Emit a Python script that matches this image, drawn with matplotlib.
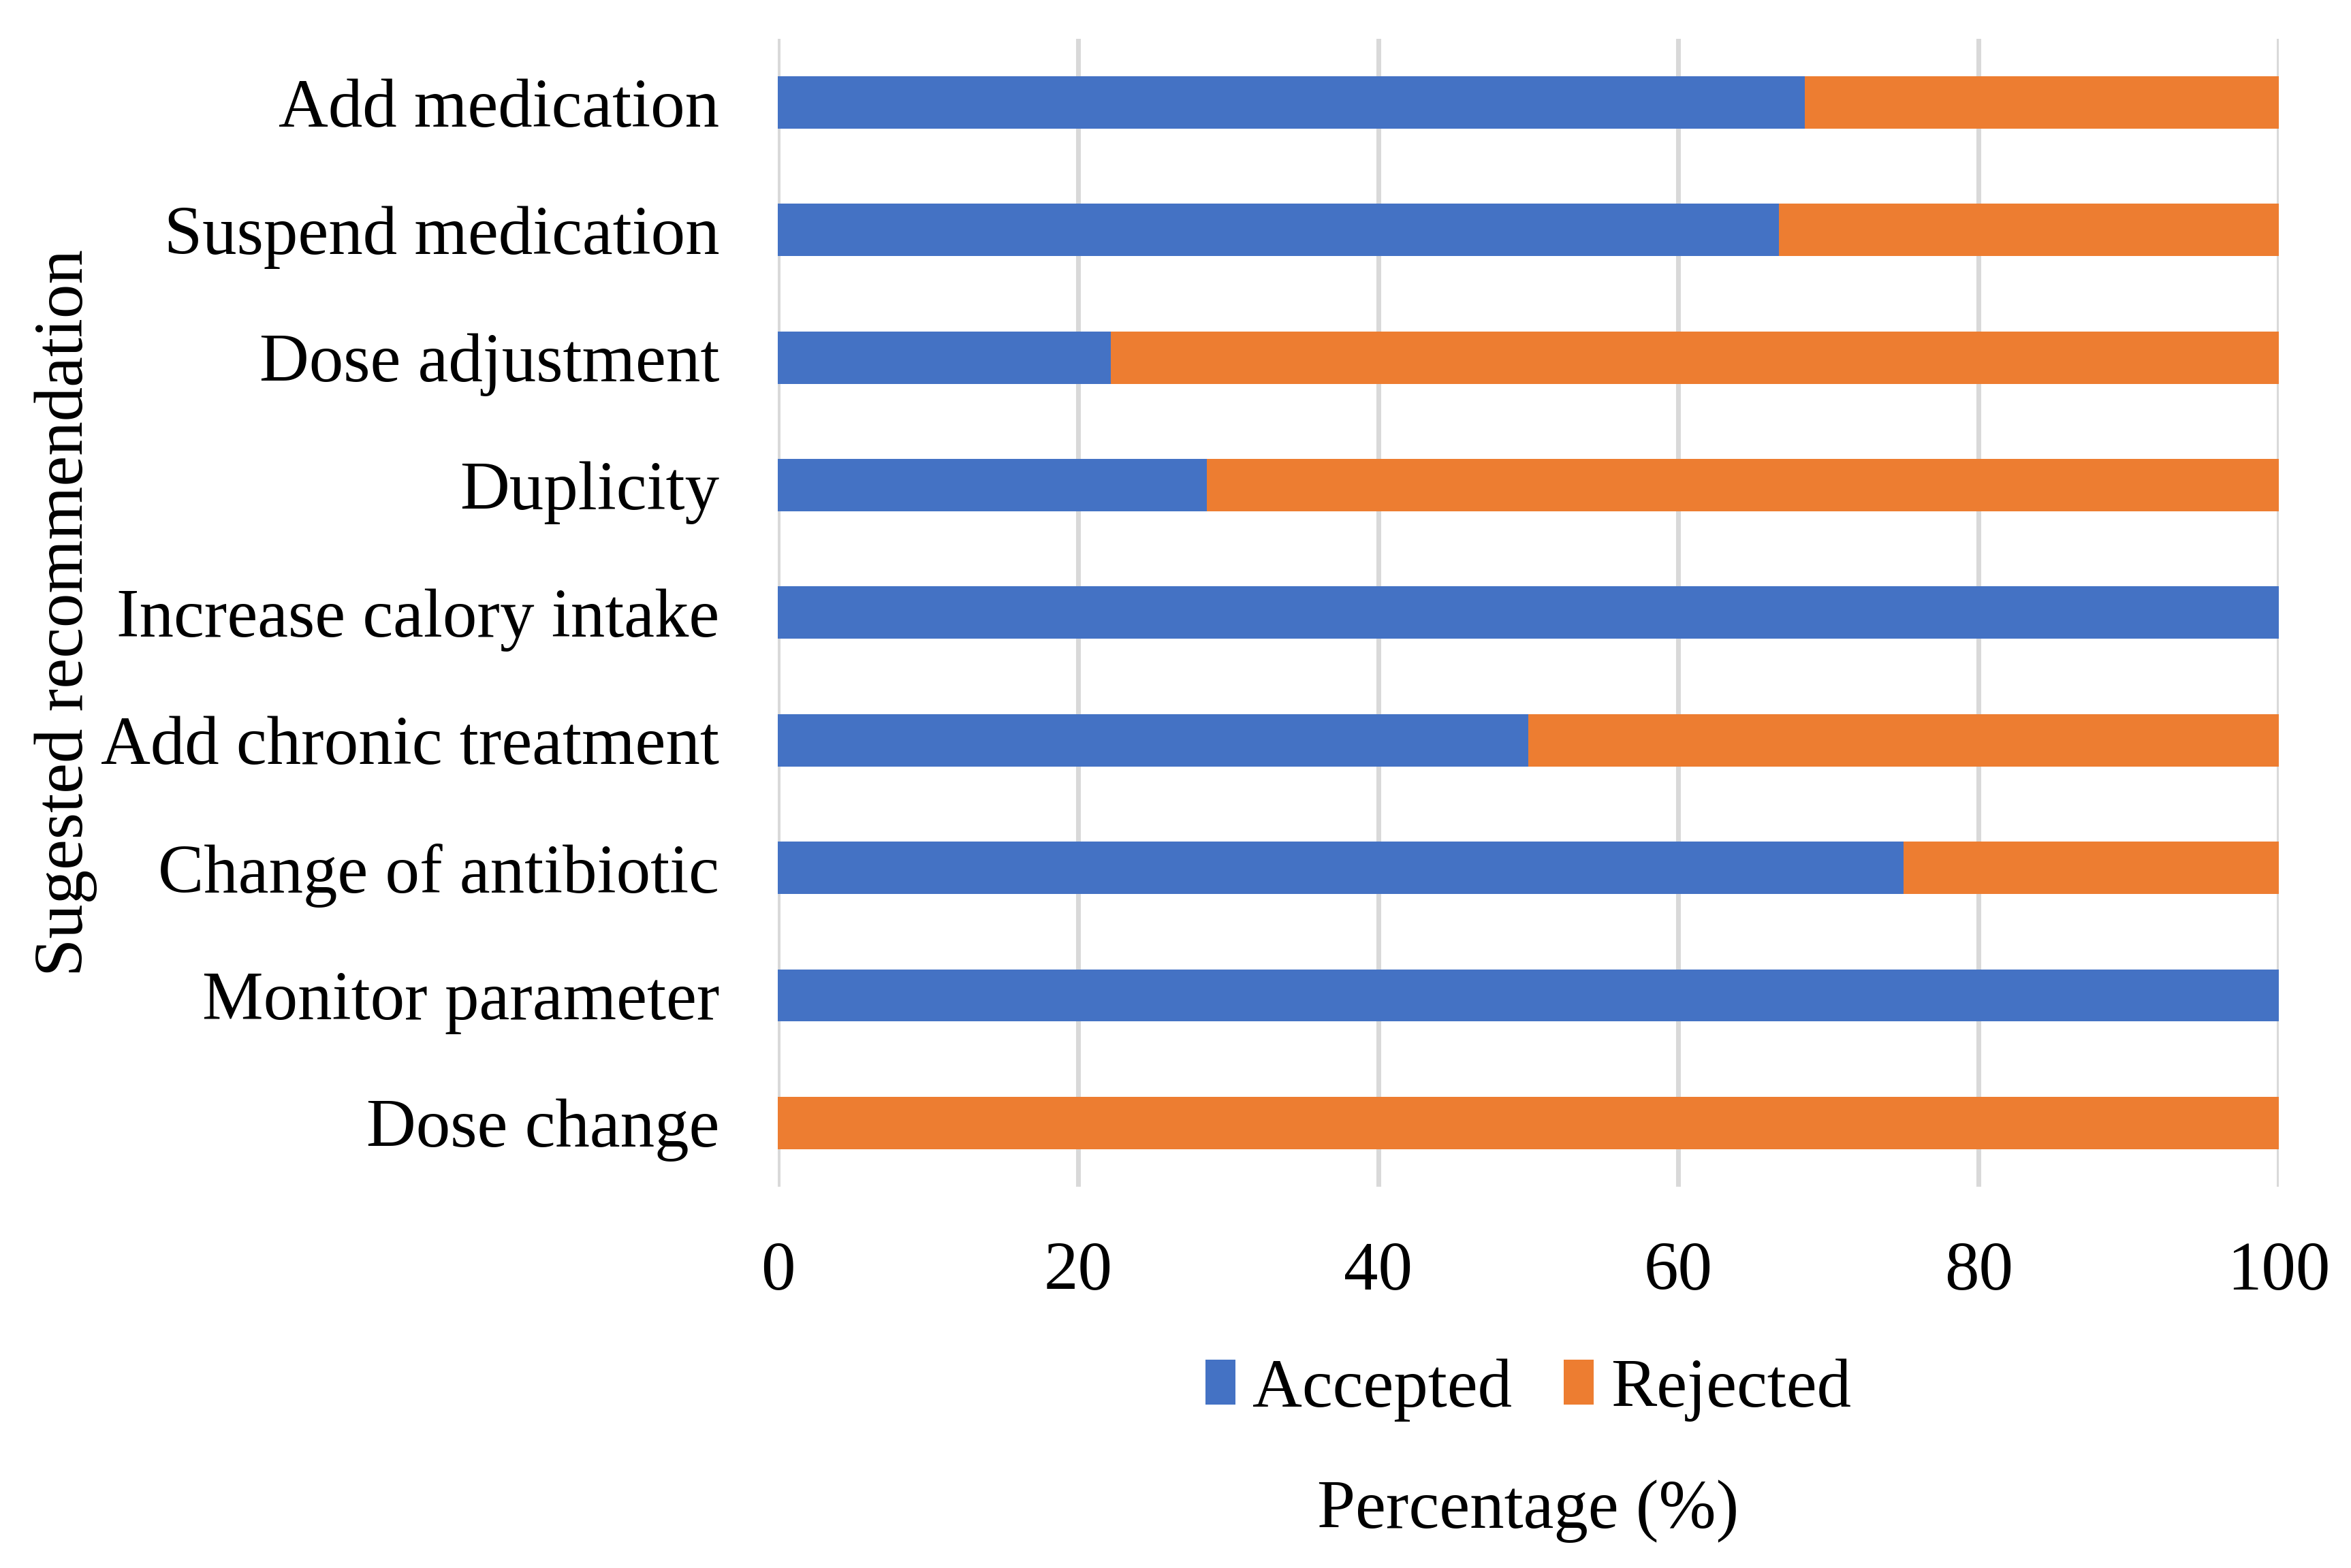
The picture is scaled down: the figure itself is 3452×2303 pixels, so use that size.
import matplotlib
matplotlib.use("Agg")
import matplotlib.pyplot as plt
import numpy as np

categories = ["Add medication", "Suspend medication", "Dose adjustment", "Duplicity",
              "Increase calory intake", "Add chronic treatment", "Change of antibiotic",
              "Monitor parameter", "Dose change"]
accepted = [68.4, 66.7, 22.2, 28.6, 100, 50, 75, 100, 0]
rejected = [31.6, 33.3, 77.8, 71.4, 0, 50, 25, 0, 100]
xticks = [0, 20, 40, 60, 80, 100]

plt.rcParams['font.family'] = ['Liberation Serif', 'DejaVu Serif']

fig = plt.figure(figsize=(3452 / 220, 2303 / 220), dpi=220)
ax = fig.add_axes([0.3308, 0.2432, 0.6385, 0.7321])

y = np.arange(len(categories))
ax.barh(y, accepted, height=0.41, color="#4472C4", label="Accepted", zorder=3)
ax.barh(y, rejected, left=accepted, height=0.41, color="#ED7D31", label="Rejected", zorder=3)

ax.set_ylim(len(categories) - 0.5, -0.5)
ax.set_xlim(0, 100)
ax.set_yticks(y)
ax.set_yticklabels(categories, fontsize=33)
ax.set_xticks(xticks)
ax.set_xticklabels([str(t) for t in xticks], fontsize=33)
ax.tick_params(axis="both", length=0)
ax.tick_params(axis="y", pad=28)
ax.tick_params(axis="x", pad=26)
ax.grid(axis="x", color="#d9d9d9", linewidth=2.3, zorder=0)
ax.set_axisbelow(True)
for s in ax.spines.values():
    s.set_visible(False)

ax.set_ylabel("Sugested recommendation", fontsize=33)
ax.yaxis.set_label_coords(-0.453, 0.5)
ax.set_xlabel("Percentage (%)", fontsize=33)
ax.xaxis.set_label_coords(0.5, -0.255)

ax.legend(loc="center", bbox_to_anchor=(0.5, -0.177), ncol=2, frameon=False,
          fontsize=33, handlelength=0.44, handleheight=0.63, handletextpad=0.25,
          columnspacing=0.75)

fig.savefig("out.png", dpi=220)
